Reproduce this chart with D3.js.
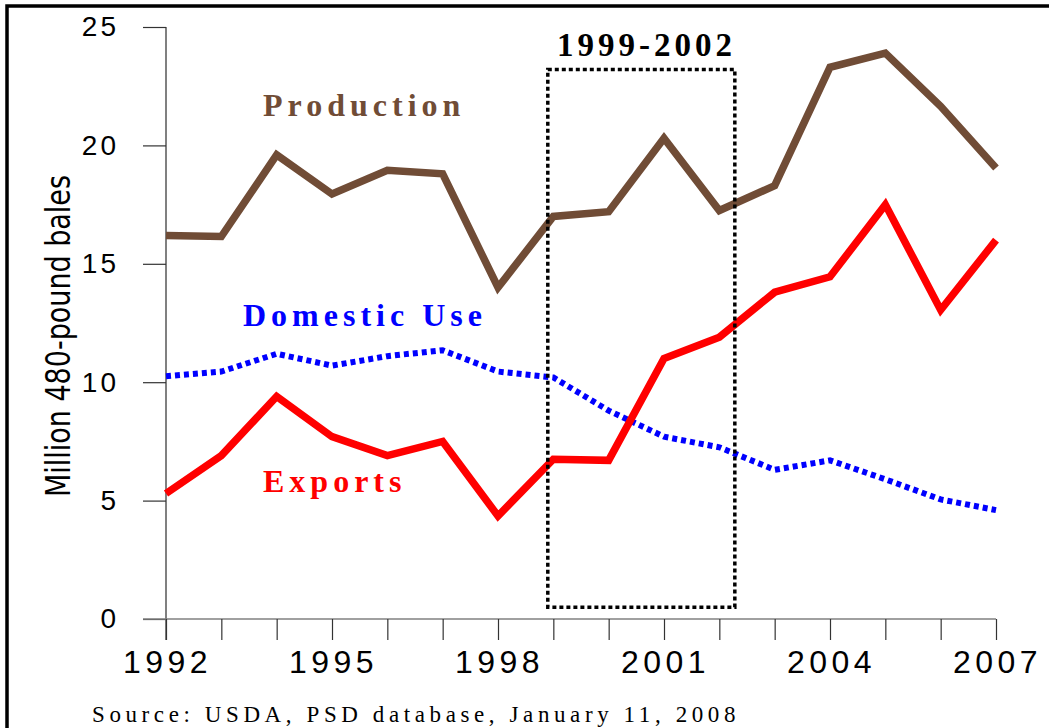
<!DOCTYPE html>
<html>
<head>
<meta charset="utf-8">
<script src="https://cdn.jsdelivr.net/npm/d3@7"></script>
<style>
  body { margin: 0; background: #fff; }
  svg { display: block; }
</style>
</head>
<body>
<div id="chart"></div>
<script>
const years = d3.range(1992, 2008);
const production = [16.2, 16.15, 19.6, 17.95, 18.95, 18.8, 14.0, 17.0, 17.2, 20.3, 17.25, 18.3, 23.3, 23.9, 21.65, 19.05];
const domesticUse = [10.25, 10.45, 11.2, 10.7, 11.1, 11.35, 10.45, 10.2, 8.8, 7.7, 7.25, 6.3, 6.7, 5.9, 5.05, 4.6];
const exports_ = [5.3, 6.9, 9.4, 7.7, 6.9, 7.5, 4.35, 6.75, 6.7, 11.0, 11.9, 13.8, 14.45, 17.5, 13.05, 16.0];
const yTicks = [0, 5, 10, 15, 20, 25];
const xTicks = [1992, 1995, 1998, 2001, 2004, 2007];
const highlightYears = [1998.9, 2002.28];
const highlightValues = [0.5, 23.2];

const width = 1049;
const height = 728;

const svg = d3.select('#chart')
  .append('svg')
  .attr('width', width)
  .attr('height', height);

// frame (only left and top show in the picture)
svg.append('path')
  .attr('d', 'M7,730 V6 H1052')
  .attr('fill', 'none')
  .attr('stroke', '#000')
  .attr('stroke-width', 3.5);

const x = d3.scaleLinear().domain([1992, 2007]).range([166, 996]);
const y = d3.scaleLinear().domain([0, 25]).range([619, 27]);

// y axis
const yAxis = svg.append('g')
  .attr('transform', 'translate(166,0)')
  .call(d3.axisLeft(y).tickValues(yTicks).tickSize(23).tickPadding(24));
yAxis.select('.domain').attr('stroke', '#808080').attr('stroke-width', 2)
  .attr('d', `M0,${y(25)}V640`);
yAxis.selectAll('.tick line').attr('stroke', '#333').attr('stroke-width', 1.2);
yAxis.selectAll('.tick text')
  .attr('font-family', 'Liberation Sans, Arial, sans-serif')
  .attr('font-size', 28)
  .attr('fill', '#000')
  .style('letter-spacing', '3px');

// x axis
const xAxis = svg.append('g')
  .attr('transform', `translate(0,${y(0)})`)
  .call(d3.axisBottom(x).ticks(15).tickSize(21).tickFormat(d => xTicks.includes(d) ? d : ''));
xAxis.select('.domain').attr('stroke', '#808080').attr('stroke-width', 1.5)
  .attr('d', `M143,0H${x(2007)}`);
xAxis.selectAll('.tick line').attr('stroke', '#333').attr('stroke-width', 1.2);
xAxis.selectAll('.tick text')
  .attr('font-family', 'Liberation Sans, Arial, sans-serif')
  .attr('font-size', 32)
  .attr('fill', '#000')
  .attr('y', 31)
  .attr('dy', '0.71em')
  .attr('dx', '1px')
  .style('letter-spacing', '4.5px');

// y axis title
svg.append('text')
  .attr('transform', 'translate(70,336) rotate(-90)')
  .attr('text-anchor', 'middle')
  .attr('font-family', 'Liberation Sans Narrow, DejaVu Sans Condensed, sans-serif')
  .attr('font-size', 33)
  .attr('textLength', 322)
  .attr('lengthAdjust', 'spacingAndGlyphs')
  .text('Million 480-pound bales');

const line = d3.line()
  .x((d, i) => x(years[i]))
  .y(d => y(d));

svg.append('path')
  .datum(production)
  .attr('d', line)
  .attr('fill', 'none')
  .attr('stroke', '#704C36')
  .attr('stroke-width', 7.5)
  .attr('stroke-linejoin', 'miter');

svg.append('path')
  .datum(domesticUse)
  .attr('d', line)
  .attr('fill', 'none')
  .attr('stroke', '#0000FF')
  .attr('stroke-width', 6)
  .attr('stroke-dasharray', '5 4');

svg.append('path')
  .datum(exports_)
  .attr('d', line)
  .attr('fill', 'none')
  .attr('stroke', '#FF0000')
  .attr('stroke-width', 7.5)
  .attr('stroke-linejoin', 'miter');

// highlighted period box
svg.append('rect')
  .attr('x', x(highlightYears[0]))
  .attr('y', y(highlightValues[1]))
  .attr('width', x(highlightYears[1]) - x(highlightYears[0]))
  .attr('height', y(highlightValues[0]) - y(highlightValues[1]))
  .attr('fill', 'none')
  .attr('stroke', '#000')
  .attr('stroke-width', 3.5)
  .attr('stroke-dasharray', '4 3');

svg.append('text')
  .attr('x', 557)
  .attr('y', 56)
  .attr('font-family', 'Liberation Serif, Times New Roman, serif')
  .attr('font-weight', 'bold')
  .attr('font-size', 33)
  .style('letter-spacing', '4px')
  .text('1999-2002');

// series labels
const labels = [
  { text: 'Production', x: 263, y: 116, color: '#704C36' },
  { text: 'Domestic Use', x: 243, y: 326, color: '#0000FF' },
  { text: 'Exports', x: 263, y: 492, color: '#FF0000' }
];
svg.selectAll('.series-label')
  .data(labels)
  .enter()
  .append('text')
  .attr('class', 'series-label')
  .attr('x', d => d.x)
  .attr('y', d => d.y)
  .attr('fill', d => d.color)
  .attr('font-family', 'Liberation Serif, Times New Roman, serif')
  .attr('font-weight', 'bold')
  .attr('font-size', 32)
  .style('letter-spacing', '5px')
  .text(d => d.text);

svg.append('text')
  .attr('x', 92)
  .attr('y', 722)
  .attr('font-family', 'Liberation Serif, Times New Roman, serif')
  .attr('font-size', 23)
  .style('letter-spacing', '4.6px')
  .text('Source: USDA, PSD database, January 11, 2008');
</script>
</body>
</html>
